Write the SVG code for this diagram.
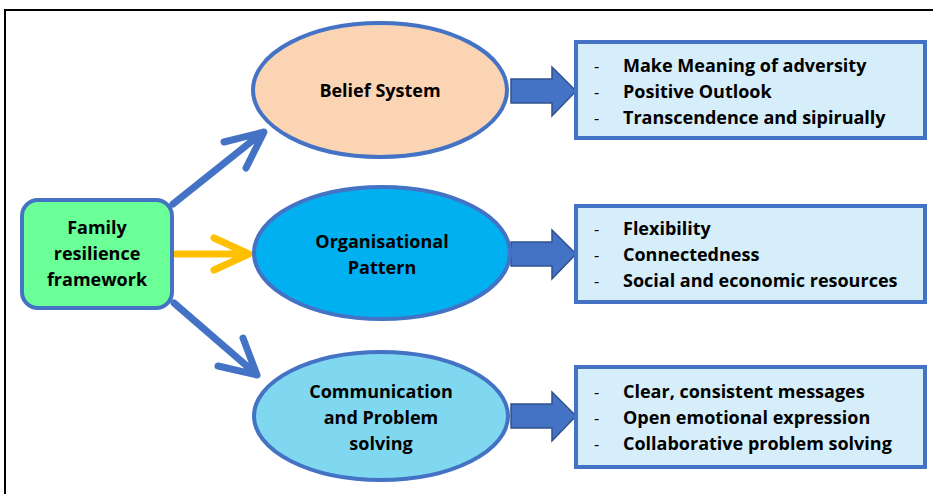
<svg xmlns="http://www.w3.org/2000/svg" width="933" height="494" viewBox="0 0 933 494">
<style>
.t{font-family:"Open Sans","Liberation Sans",sans-serif;font-weight:bold;font-size:18px;fill:#000}
.d{font-family:"Open Sans","Liberation Sans",sans-serif;font-size:16px;fill:#000}
.c{text-anchor:middle}
.ell{stroke:#4472C4;stroke-width:4}
.box{fill:#D5EEF9;stroke:#4472C4;stroke-width:4}
.blk{fill:#4472C4;stroke:#2F528F;stroke-width:1.5}
.ln{fill:none;stroke-width:7;stroke-linecap:round;stroke-linejoin:round}
</style>
<rect x="0" y="0" width="933" height="494" fill="#fff"/>
<rect x="5" y="10" width="940" height="500" fill="none" stroke="#000" stroke-width="2"/>
<g id="connectors">
  <path class="ln" d="M173,204 L262,133 M224,142 L264,132 L246,168" stroke="#4472C4" stroke-linecap="butt"/>
  <path class="ln" d="M176,254 L248,254 M214,238 L249,254 L214,270" stroke="#FFC000"/>
  <path class="ln" d="M174,303 L255,373 M243,338 L257,375 L218,366" stroke="#4472C4" stroke-linecap="butt"/>
  <path class="blk" d="M511,79 L552,79 L552,67 L576,91 L552,116 L552,103 L511,103 Z"/>
  <path class="blk" d="M511,242 L552,242 L552,230 L576,254 L552,279 L552,266 L511,266 Z"/>
  <path class="blk" d="M511,404 L552,404 L552,392 L576,416 L552,441 L552,428 L511,428 Z"/>
</g>
<g id="family">
  <rect x="22" y="200" width="150" height="108" rx="16" fill="#6BFF98" stroke="#4472C4" stroke-width="4"/>
  <text class="t c" x="97" y="234">Family</text>
  <text class="t c" x="97" y="260">resilience</text>
  <text class="t c" x="97" y="286">framework</text>
</g>
<g id="belief">
  <ellipse class="ell" cx="380" cy="90" rx="127" ry="67" fill="#FBD4B4"/>
  <text class="t c" x="380" y="97">Belief System</text>
</g>
<g id="organisational">
  <ellipse class="ell" cx="382" cy="253" rx="128" ry="66" fill="#00B0F0"/>
  <text class="t c" x="382" y="248">Organisational</text>
  <text class="t c" x="382" y="274">Pattern</text>
</g>
<g id="communication">
  <ellipse class="ell" cx="381" cy="416" rx="127" ry="64" fill="#7FD7F0"/>
  <text class="t c" x="381" y="398">Communication</text>
  <text class="t c" x="381" y="424">and Problem</text>
  <text class="t c" x="381" y="450">solving</text>
</g>
<g id="box-belief">
  <rect class="box" x="576" y="42" width="349" height="96"/>
  <text class="d" x="594" y="72">-</text><text class="t" x="623" y="72">Make Meaning of adversity</text>
  <text class="d" x="594" y="98">-</text><text class="t" x="623" y="98">Positive Outlook</text>
  <text class="d" x="594" y="124">-</text><text class="t" x="623" y="124">Transcendence and sipirually</text>
</g>
<g id="box-organisational">
  <rect class="box" x="576" y="206" width="349" height="96"/>
  <text class="d" x="594" y="235">-</text><text class="t" x="623" y="235">Flexibility</text>
  <text class="d" x="594" y="261">-</text><text class="t" x="623" y="261">Connectedness</text>
  <text class="d" x="594" y="287">-</text><text class="t" x="623" y="287">Social and economic resources</text>
</g>
<g id="box-communication">
  <rect class="box" x="576" y="367" width="349" height="100"/>
  <text class="d" x="594" y="398">-</text><text class="t" x="623" y="398">Clear, consistent messages</text>
  <text class="d" x="594" y="424">-</text><text class="t" x="623" y="424">Open emotional expression</text>
  <text class="d" x="594" y="450">-</text><text class="t" x="623" y="450">Collaborative problem solving</text>
</g>
</svg>
